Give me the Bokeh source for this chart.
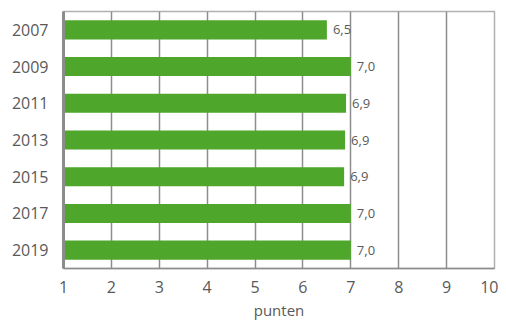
from bokeh.plotting import figure
from bokeh.models import ColumnDataSource, FactorRange, Range1d, FixedTicker, LabelSet
from bokeh.core.properties import value
from bokeh.embed import file_html
from bokeh.resources import INLINE

years = ["2007", "2009", "2011", "2013", "2015", "2017", "2019"]
values = [6.5, 7.0, 6.9, 6.88, 6.86, 7.0, 7.0]
labels = ["6,5", "7,0", "6,9", "6,9", "6,9", "7,0", "7,0"]
x_ticks = [1, 2, 3, 4, 5, 6, 7, 8, 9, 10]

FONT = "Open Sans"
TXT = "#595959"
GRID = "#8c8c8c"

src = ColumnDataSource(dict(year=years, value=values, label=labels, base=[1] * len(years)))

p = figure(width=498, height=322, output_backend="svg", toolbar_location=None,
           y_range=FactorRange(factors=list(reversed(years)), range_padding=0),
           x_range=Range1d(1, 10),
           min_border_left=63, min_border_right=4, min_border_top=11, min_border_bottom=51)

p.hbar(y="year", left="base", right="value", height=0.52, source=src,
       fill_color="#4ea72a", line_color=None)

p.add_layout(LabelSet(x="value", y="year", text="label", source=src, x_offset=6,
                      text_baseline="middle", text_font_size=value("13px"),
                      text_color=value(TXT), text_font=value(FONT)))

p.xgrid.ticker = FixedTicker(ticks=x_ticks)
p.xgrid.grid_line_color = GRID
p.xgrid.grid_line_width = 1.5
p.ygrid.grid_line_color = None

p.xaxis.ticker = FixedTicker(ticks=x_ticks)
p.xaxis.axis_label = "punten"
p.xaxis.axis_label_text_font = FONT
p.xaxis.axis_label_text_font_style = "normal"
p.xaxis.axis_label_text_font_size = "15px"
p.xaxis.axis_label_text_color = TXT
p.xaxis.axis_label_standoff = 4
p.xaxis.major_label_text_font = FONT
p.xaxis.major_label_text_font_size = "16px"
p.xaxis.major_label_text_color = TXT
p.xaxis.major_label_standoff = 6
p.xaxis.axis_line_color = GRID
p.xaxis.axis_line_width = 1.5
p.xaxis.major_tick_line_color = None
p.xaxis.minor_tick_line_color = None

p.yaxis.major_label_text_font = FONT
p.yaxis.major_label_text_font_size = "16px"
p.yaxis.major_label_text_color = TXT
p.yaxis.major_label_standoff = 9
p.yaxis.axis_line_color = GRID
p.yaxis.axis_line_width = 3
p.yaxis.major_tick_line_color = None
p.yaxis.minor_tick_line_color = None

p.outline_line_color = "#b0b0b0"
p.outline_line_width = 1.5

open("out.html", "w").write(file_html(p, INLINE))
